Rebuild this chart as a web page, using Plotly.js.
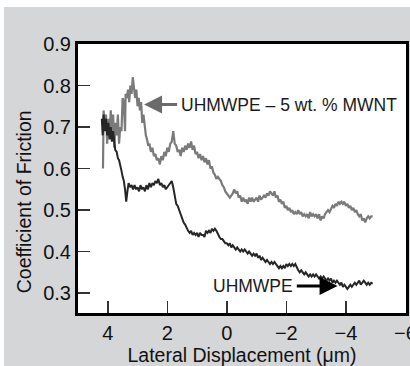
<!DOCTYPE html>
<html>
<head>
<meta charset="utf-8">
<script src="https://cdn.plot.ly/plotly-3.0.1.min.js"></script>
<style>
  html, body { margin: 0; padding: 0; background: #ffffff; width: 410px; height: 366px; overflow: hidden; }
  #chart { position: absolute; left: 4px; top: 7px; width: 406px; height: 359px; }
</style>
</head>
<body>
<div id="chart"></div>
<script>
// UHMWPE - 5 wt.% MWNT (grey trace)
var mwntX = [4.16,4.14,4.10,4.06,4.02,3.98,3.94,3.90,3.86,3.82,3.78,3.74,3.70,3.66,3.62,3.58,3.54,3.50,3.46,3.42,3.40,3.36,3.32,3.28,3.24,3.20,3.16,3.12,3.08,3.04,3.00,2.96,2.92,2.88,2.84,2.80,2.76,2.72,2.68,2.64,2.60,2.55,2.50,2.45,2.40,2.35,2.30,2.25,2.20,2.15,2.10,2.05,2.00,1.95,1.90,1.85,1.80,1.75,1.70,1.65,1.60,1.55,1.50,1.45,1.40,1.35,1.30,1.25,1.20,1.15,1.10,1.05,1.00,0.95,0.90,0.85,0.80,0.75,0.70,0.65,0.60,0.55,0.50,0.45,0.40,0.35,0.30,0.25,0.20,0.15,0.10,0.05,0.00,-0.05,-0.10,-0.15,-0.20,-0.25,-0.30,-0.35,-0.40,-0.45,-0.50,-0.55,-0.60,-0.65,-0.70,-0.75,-0.80,-0.85,-0.90,-0.95,-1.00,-1.05,-1.10,-1.15,-1.20,-1.25,-1.30,-1.35,-1.40,-1.45,-1.50,-1.55,-1.60,-1.65,-1.70,-1.75,-1.80,-1.85,-1.90,-1.95,-2.00,-2.05,-2.10,-2.15,-2.20,-2.25,-2.30,-2.35,-2.40,-2.45,-2.50,-2.55,-2.60,-2.65,-2.70,-2.75,-2.80,-2.85,-2.90,-2.95,-3.00,-3.05,-3.10,-3.15,-3.20,-3.25,-3.30,-3.35,-3.40,-3.45,-3.50,-3.55,-3.60,-3.65,-3.70,-3.75,-3.80,-3.85,-3.90,-3.95,-4.00,-4.05,-4.10,-4.15,-4.20,-4.25,-4.30,-4.35,-4.40,-4.45,-4.50,-4.55,-4.60,-4.65,-4.70,-4.75,-4.80,-4.85,-4.90];
var mwntY = [0.60,0.74,0.70,0.73,0.66,0.72,0.68,0.74,0.67,0.73,0.65,0.71,0.68,0.73,0.66,0.70,0.69,0.77,0.76,0.69,0.78,0.77,0.79,0.76,0.80,0.78,0.82,0.80,0.77,0.79,0.75,0.77,0.74,0.76,0.71,0.73,0.70,0.68,0.67,0.655,0.66,0.64,0.65,0.63,0.635,0.62,0.625,0.61,0.63,0.62,0.64,0.63,0.65,0.64,0.66,0.665,0.69,0.66,0.655,0.64,0.645,0.63,0.65,0.64,0.655,0.645,0.66,0.65,0.665,0.645,0.655,0.635,0.64,0.625,0.635,0.62,0.63,0.615,0.625,0.61,0.62,0.60,0.605,0.59,0.585,0.575,0.58,0.575,0.57,0.56,0.555,0.545,0.54,0.535,0.53,0.535,0.54,0.55,0.54,0.545,0.53,0.535,0.52,0.53,0.52,0.525,0.515,0.53,0.52,0.53,0.52,0.525,0.53,0.52,0.535,0.525,0.53,0.535,0.53,0.54,0.535,0.545,0.54,0.535,0.545,0.53,0.535,0.52,0.525,0.515,0.52,0.505,0.51,0.50,0.505,0.495,0.50,0.49,0.495,0.49,0.50,0.49,0.495,0.485,0.49,0.485,0.49,0.48,0.495,0.485,0.49,0.485,0.49,0.48,0.49,0.475,0.485,0.48,0.49,0.495,0.50,0.495,0.505,0.51,0.505,0.515,0.51,0.52,0.515,0.52,0.515,0.52,0.51,0.515,0.505,0.51,0.50,0.505,0.495,0.50,0.49,0.485,0.49,0.475,0.48,0.47,0.48,0.485,0.48,0.485,0.485];

// UHMWPE (black trace)
var pureX = [4.20,4.17,4.14,4.10,4.06,4.02,3.98,3.94,3.90,3.86,3.82,3.78,3.75,3.70,3.66,3.62,3.58,3.54,3.50,3.46,3.42,3.38,3.34,3.30,3.25,3.20,3.15,3.10,3.05,3.00,2.95,2.90,2.85,2.80,2.75,2.70,2.65,2.60,2.55,2.50,2.45,2.40,2.35,2.30,2.25,2.20,2.15,2.10,2.05,2.00,1.95,1.90,1.85,1.80,1.75,1.70,1.65,1.60,1.55,1.50,1.45,1.40,1.35,1.30,1.25,1.20,1.15,1.10,1.05,1.00,0.95,0.90,0.85,0.80,0.75,0.70,0.65,0.60,0.55,0.50,0.45,0.40,0.35,0.30,0.25,0.20,0.15,0.10,0.05,0.00,-0.05,-0.10,-0.15,-0.20,-0.25,-0.30,-0.35,-0.40,-0.45,-0.50,-0.55,-0.60,-0.65,-0.70,-0.75,-0.80,-0.85,-0.90,-0.95,-1.00,-1.05,-1.10,-1.15,-1.20,-1.25,-1.30,-1.35,-1.40,-1.45,-1.50,-1.55,-1.60,-1.65,-1.70,-1.75,-1.80,-1.85,-1.90,-1.95,-2.00,-2.05,-2.10,-2.15,-2.20,-2.25,-2.30,-2.35,-2.40,-2.45,-2.50,-2.55,-2.60,-2.65,-2.70,-2.75,-2.80,-2.85,-2.90,-2.95,-3.00,-3.05,-3.10,-3.15,-3.20,-3.25,-3.30,-3.35,-3.40,-3.45,-3.50,-3.55,-3.60,-3.65,-3.70,-3.75,-3.80,-3.85,-3.90,-3.95,-4.00,-4.05,-4.10,-4.15,-4.20,-4.25,-4.30,-4.35,-4.40,-4.45,-4.50,-4.55,-4.60,-4.65,-4.70,-4.75,-4.80,-4.85,-4.90];
var pureY = [0.72,0.68,0.73,0.69,0.72,0.68,0.71,0.67,0.70,0.665,0.69,0.66,0.645,0.64,0.625,0.62,0.61,0.595,0.58,0.57,0.55,0.52,0.545,0.565,0.555,0.56,0.55,0.56,0.55,0.555,0.545,0.56,0.55,0.555,0.545,0.56,0.55,0.565,0.555,0.565,0.56,0.57,0.565,0.575,0.56,0.565,0.555,0.56,0.55,0.555,0.56,0.565,0.57,0.555,0.53,0.515,0.51,0.50,0.485,0.48,0.47,0.465,0.455,0.45,0.445,0.45,0.44,0.445,0.44,0.445,0.435,0.445,0.44,0.44,0.435,0.45,0.445,0.45,0.445,0.455,0.45,0.455,0.45,0.44,0.435,0.43,0.43,0.425,0.42,0.42,0.415,0.42,0.41,0.415,0.41,0.405,0.41,0.405,0.40,0.405,0.40,0.405,0.40,0.395,0.40,0.395,0.39,0.395,0.39,0.395,0.385,0.39,0.38,0.385,0.38,0.375,0.38,0.375,0.37,0.375,0.37,0.375,0.37,0.365,0.36,0.365,0.36,0.365,0.36,0.37,0.365,0.37,0.365,0.37,0.365,0.37,0.36,0.355,0.35,0.355,0.35,0.345,0.35,0.345,0.34,0.345,0.34,0.345,0.34,0.345,0.34,0.335,0.34,0.335,0.34,0.335,0.33,0.335,0.33,0.335,0.325,0.33,0.325,0.33,0.325,0.32,0.325,0.315,0.32,0.315,0.31,0.315,0.32,0.315,0.32,0.325,0.32,0.325,0.33,0.32,0.325,0.33,0.325,0.32,0.325,0.32,0.325,0.323];

var xTickVals = [4, 2, 0, -2, -4, -6];
var xTickText = ['4', '2', '0', '\u22122', '\u22124', '\u22126'];
var yTickVals = [0.3, 0.4, 0.5, 0.6, 0.7, 0.8, 0.9];
var yTickText = ['0.3', '0.4', '0.5', '0.6', '0.7', '0.8', '0.9'];

var labelMWNT = 'UHMWPE \u2013 5 wt. % MWNT';
var labelPure = 'UHMWPE';
var xTitle = 'Lateral Displacement (\u03bcm)';
var yTitle = 'Coefficient of Friction';

var FONT = 'Liberation Sans, Arial, Helvetica, sans-serif';

var traces = [
  { x: mwntX, y: mwntY, type: 'scatter', mode: 'lines', name: labelMWNT,
    line: { color: '#7a7a7a', width: 2.2 }, hoverinfo: 'skip' },
  { x: pureX, y: pureY, type: 'scatter', mode: 'lines', name: labelPure,
    line: { color: '#262626', width: 2 }, hoverinfo: 'skip' }
];

var axisCommon = {
  showgrid: false, zeroline: false, showline: true, linecolor: '#000', linewidth: 3,
  mirror: true, ticks: 'inside', ticklen: 12, tickwidth: 1.5, tickcolor: '#333',
  ticklabeloverflow: 'allow',
  tickfont: { family: FONT, size: 20, color: '#111' }
};

var layout = {
  width: 406, height: 359,
  margin: { l: 74, r: 4, t: 37, b: 53 },
  paper_bgcolor: '#d5d6d8',
  plot_bgcolor: '#ffffff',
  showlegend: false,
  xaxis: Object.assign({}, axisCommon, {
    range: [5.0, -6.02], tickmode: 'array', tickvals: xTickVals, ticktext: xTickText,
    title: { text: xTitle, font: { family: FONT, size: 19.5, color: '#111' }, standoff: 0 }
  }),
  yaxis: Object.assign({}, axisCommon, {
    range: [0.252, 0.9], tickmode: 'array', tickvals: yTickVals, ticktext: yTickText
  }),
  annotations: [
    { xref: 'paper', yref: 'paper', x: -0.162, y: 0.415, xanchor: 'center', yanchor: 'middle',
      text: yTitle, textangle: -90,
      showarrow: false, font: { family: FONT, size: 19.5, color: '#111' } },
    { x: 1.60, y: 0.754, xref: 'x', yref: 'y', text: labelMWNT, xanchor: 'left', yanchor: 'middle',
      showarrow: false, font: { family: FONT, size: 17.5, color: '#1a1a1a' } },
    { x: 2.78, y: 0.754, xref: 'x', yref: 'y', ax: 1.62, ay: 0.754, axref: 'x', ayref: 'y',
      text: '', showarrow: true, arrowhead: 2, arrowsize: 1.2, arrowwidth: 3, arrowcolor: '#6b6b6b', standoff: 0 },
    { x: -2.28, y: 0.317, xref: 'x', yref: 'y', text: labelPure, xanchor: 'right', yanchor: 'middle',
      showarrow: false, font: { family: FONT, size: 17.5, color: '#1a1a1a' } },
    { x: -3.72, y: 0.317, xref: 'x', yref: 'y', ax: -2.30, ay: 0.317, axref: 'x', ayref: 'y',
      text: '', showarrow: true, arrowhead: 2, arrowsize: 1.2, arrowwidth: 3, arrowcolor: '#000', standoff: 0 }
  ]
};

Plotly.newPlot('chart', traces, layout, { staticPlot: true, displayModeBar: false });
</script>
</body>
</html>
